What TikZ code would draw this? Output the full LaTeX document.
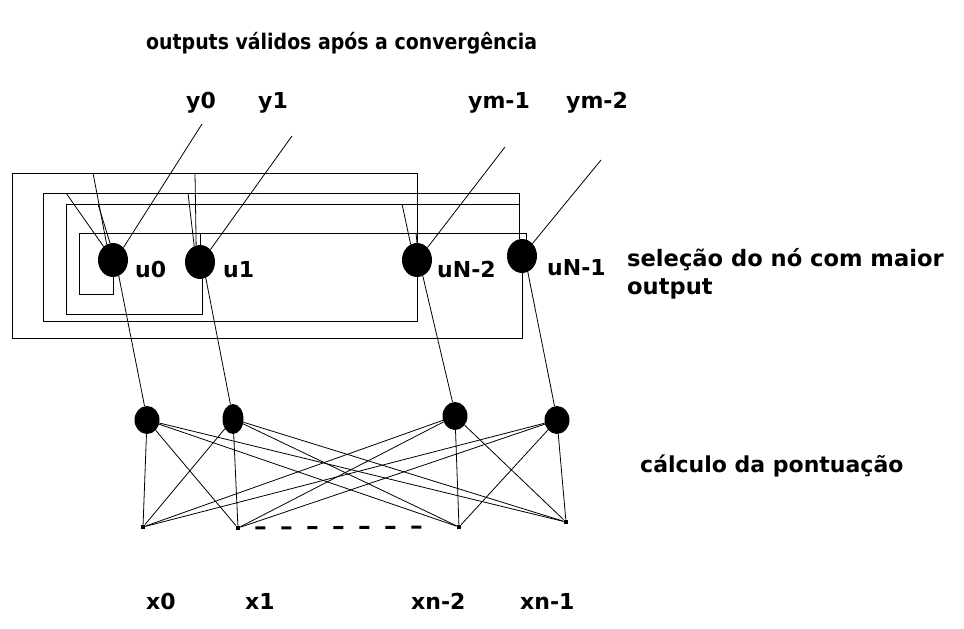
\documentclass[tikz,border=0pt]{standalone}
\usepackage{fontspec}
\setmainfont{DejaVu Sans}
\newfontfamily\narrowfont[FakeStretch=0.88]{DejaVu Sans}
\usetikzlibrary{shapes.geometric}
\begin{document}
\begin{tikzpicture}[x=1pt,y=-1pt,
  wire/.style={line width=1pt},
  fine/.style={line width=0.8pt},
  unit/.style={ellipse,fill=black,inner sep=0pt,minimum width=30pt,minimum height=34pt},
  score/.style={ellipse,fill=black,inner sep=0pt,minimum width=25pt,minimum height=28pt},
  inp/.style={rectangle,fill=black,inner sep=0pt,minimum size=4.5pt},
  lbl/.style={font=\bfseries\fontsize{22}{26}\selectfont,inner sep=0pt,anchor=base west},
  ttl/.style={font=\narrowfont\bfseries\fontsize{21.5}{25}\selectfont,inner sep=0pt,anchor=base west},
]
\useasboundingbox (0,0) rectangle (964,629);

% competitive layer
\node[unit] (u0)  at (113,260) {};
\node[unit] (u1)  at (200,262) {};
\node[unit] (uN2) at (417,260) {};
\node[unit] (uN1) at (522,256) {};

% scoring layer
\node[score] (s0) at (147,420) {};
\node[score,minimum width=21pt,minimum height=30pt] (s1) at (233,419) {};
\node[score] (s2) at (455,416) {};
\node[score] (s3) at (557,420) {};

% input points
\node[inp] (x0) at (143,527) {};
\node[inp] (x1) at (238,528) {};
\node[inp] (x2) at (459,527) {};
\node[inp] (x3) at (566,522) {};

% full connection inputs -> scoring units
\foreach \s in {s0,s1,s2,s3}
  \foreach \x in {x0,x1,x2,x3}
    \draw[fine] (\s) -- (\x);
\draw[line width=3pt,dash pattern=on 10pt off 16pt,shorten <=15pt,shorten >=24pt] (x1) -- (x2);

% scoring units -> competitive units
\draw[fine] (u0.-70)  -- (s0.100);
\draw[fine] (u1.-70)  -- (s1.100);
\draw[fine] (uN2.-70) -- (s2.100);
\draw[fine] (uN1.-70) -- (s3.100);

% feedback loop of uN-1
\coordinate (a1) at (12,338);
\coordinate (a2) at (12,173);
\draw[wire] (uN1.south) |- (a1) -- (a2) -| (uN2.north);
\coordinate (a3) at (93,173);
\coordinate (a4) at (195,173);
\draw[fine] (a3) -- (u0.112);
\draw[fine] (a4) -- (u1.103);

% feedback loop of uN-2
\coordinate (b1) at (43,321);
\coordinate (b2) at (43,193);
\draw[wire] (uN2.south) |- (b1) -- (b2) -| (uN1.100);
\coordinate (b3) at (66,193);
\coordinate (b4) at (188,193);
\draw[fine] (b3) -- (u0.125);
\draw[fine] (b4) -- (u1.110);

% feedback loop of u1
\coordinate (c1) at (66,314);
\coordinate (c2) at (66,204);
\coordinate (c3) at (519,204);
\draw[wire] (u1.-80) |- (c1) -- (c2) -- (c3);
\coordinate (c4) at (98,204);
\coordinate (c5) at (402,204);
\draw[fine] (c4) -- (u0.100);
\draw[fine] (c5) -- (uN2.112);

% feedback loop of u0
\coordinate (d1) at (79,294);
\coordinate (d2) at (79,233);
\draw[wire] (u0.south) |- (d1) -- (d2) -| (uN1.75);
\coordinate (d3) at (200,233);
\coordinate (d4) at (416,233);
\draw[fine] (d3) -- (u1.north);
\draw[fine] (d4) -- (uN2.north);

% outputs
\coordinate (e0) at (202,124);
\coordinate (e1) at (292,136);
\coordinate (e2) at (505,147);
\coordinate (e3) at (601,160);
\draw[fine] (u0.50)  -- (e0);
\draw[fine] (u1.50)  -- (e1);
\draw[fine] (uN2.50) -- (e2);
\draw[fine] (uN1.50) -- (e3);

% labels
\node[ttl] (title) at (146,49) {outputs válidos após a convergência};
\node[lbl] (ly0) at (186,108) {y0};
\node[lbl] (ly1) at (258,108) {y1};
\node[lbl] (ly2) at (468,108) {ym-1};
\node[lbl] (ly3) at (566,108) {ym-2};

\node[lbl] (lu0)  at (135,277) {u0};
\node[lbl] (lu1)  at (223,277) {u1};
\node[lbl] (luN2) at (437,277) {uN-2};
\node[lbl] (luN1) at (547,275) {uN-1};

\node[lbl,font=\bfseries\fontsize{22.6}{26}\selectfont] (sel) at (627,266) {seleção do nó com maior};
\node[lbl,font=\bfseries\fontsize{22.6}{26}\selectfont] (selb) at (627,294) {output};
\node[lbl] (calc) at (640,472) {cálculo da pontuação};

\node[lbl] (lx0) at (146,609) {x0};
\node[lbl] (lx1) at (245,609) {x1};
\node[lbl] (lx2) at (411,609) {xn-2};
\node[lbl] (lx3) at (520,609) {xn-1};
\end{tikzpicture}
\end{document}
